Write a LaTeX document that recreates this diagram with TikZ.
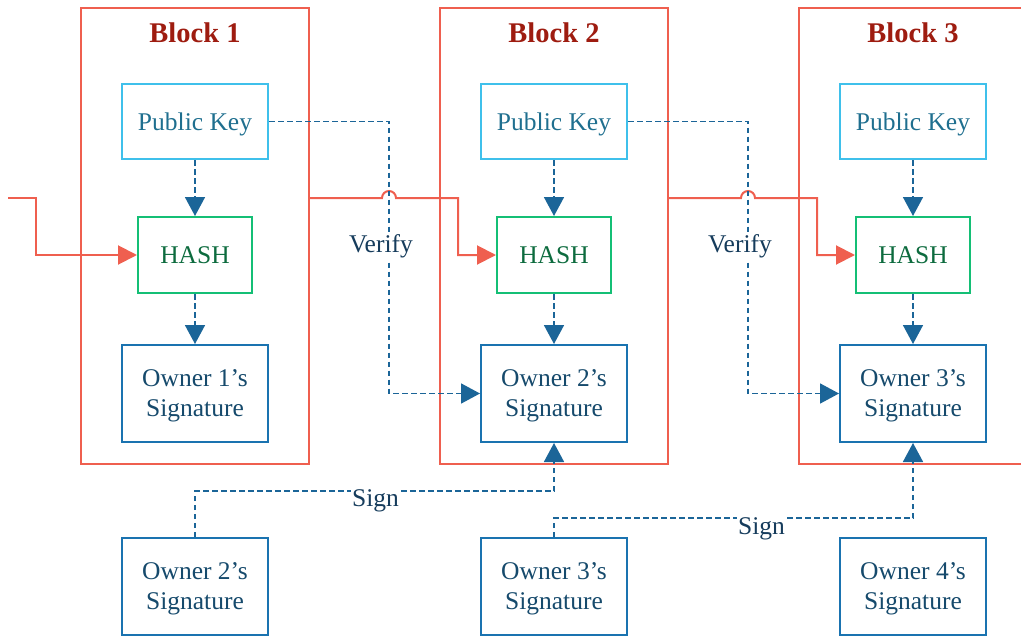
\documentclass[tikz,border=0pt]{standalone}
\usepackage{fontspec}
\setmainfont{Liberation Serif}
\usetikzlibrary{arrows.meta}
\definecolor{blockred}{HTML}{EF5F4F}
\definecolor{titlered}{HTML}{9E1C10}
\definecolor{pkborder}{HTML}{3FC0EB}
\definecolor{pktext}{HTML}{1F6F8F}
\definecolor{hashborder}{HTML}{14BF75}
\definecolor{hashtext}{HTML}{0D6B3E}
\definecolor{sigborder}{HTML}{1A73B0}
\definecolor{sigtext}{HTML}{164A6C}
\definecolor{dashcol}{HTML}{1B6598}
\definecolor{labeltext}{HTML}{163C5C}
\begin{document}
\begin{tikzpicture}[x=1pt,y=-1pt,
  blockbox/.style={draw=blockred, line width=2pt, minimum width=228pt, minimum height=456pt, inner sep=0pt},
  titletext/.style={text=titlered, font=\fontsize{28.5}{34}\selectfont\bfseries},
  basefont/.style={font=\fontsize{25.5}{30}\selectfont},
  boxtext/.style={basefont, text depth=0pt},
  pkbox/.style={boxtext, draw=pkborder, line width=2pt, text=pktext, minimum width=146pt, minimum height=75pt},
  hashbox/.style={boxtext, draw=hashborder, line width=2pt, text=hashtext, minimum width=114pt, minimum height=76pt},
  sigbox/.style={boxtext, draw=sigborder, line width=2pt, text=sigtext, minimum width=146pt, minimum height=97pt, align=center},
  dashline/.style={draw=dashcol, line width=1.7pt, dash pattern=on 5.5pt off 3.5pt, -{Triangle[length=19pt,width=20pt,fill=dashcol]}},
  redline/.style={draw=blockred, line width=2pt, -{Triangle[length=19pt,width=19pt,fill=blockred]}},
  lbl/.style={basefont, fill=white, text=labeltext, inner sep=1pt}
]
\useasboundingbox (0,0) rectangle (1021,637);
\clip (0,0) rectangle (1021,637);

% blocks
\node[blockbox] (b1) at (195,236) {};
\node[blockbox] (b2) at (554,236) {};
\node[blockbox] (b3) at (913,236) {};
\node[titletext] (t1) at (195,33) {Block 1};
\node[titletext] (t2) at (554,33) {Block 2};
\node[titletext] (t3) at (913,33) {Block 3};

% inner nodes
\node[pkbox] (pk1) at (195,121.5) {Public Key};
\node[pkbox] (pk2) at (554,121.5) {Public Key};
\node[pkbox] (pk3) at (913,121.5) {Public Key};
\node[hashbox] (h1) at (195,255) {HASH};
\node[hashbox] (h2) at (554,255) {HASH};
\node[hashbox] (h3) at (913,255) {HASH};
\node[sigbox] (s1) at (195,393.5) {Owner 1’s\\Signature};
\node[sigbox] (s2) at (554,393.5) {Owner 2’s\\Signature};
\node[sigbox] (s3) at (913,393.5) {Owner 3’s\\Signature};
\node[sigbox] (o2) at (195,586.5) {Owner 2’s\\Signature};
\node[sigbox] (o3) at (554,586.5) {Owner 3’s\\Signature};
\node[sigbox] (o4) at (913,586.5) {Owner 4’s\\Signature};

\coordinate (start) at (8,198);
\coordinate (v1) at (389,0);
\coordinate (v2) at (748,0);
\coordinate (sg1) at (0,491);
\coordinate (sg2) at (0,518);

% red chain
\draw[redline] (start) -- (36,198) |- (h1.west);
\draw[redline] (b1.east |- start) -- (382,198) arc[start angle=180,end angle=360,radius=7] -- (458,198) |- (h2.west);
\draw[redline] (b2.east |- start) -- (741,198) arc[start angle=180,end angle=360,radius=7] -- (817,198) |- (h3.west);

% inner dashed arrows
\draw[dashline] (pk1) -- (h1);
\draw[dashline] (h1) -- (s1);
\draw[dashline] (pk2) -- (h2);
\draw[dashline] (h2) -- (s2);
\draw[dashline] (pk3) -- (h3);
\draw[dashline] (h3) -- (s3);

% verify
\draw[dashline] (pk1.east) -| (v1 |- s2.west) -- (s2.west);
\draw[dashline] (pk2.east) -| (v2 |- s3.west) -- (s3.west);

% sign
\draw[dashline] (o2.north) |- (s2.south |- sg1) -- (s2.south);
\draw[dashline] (o3.north) |- (s3.south |- sg2) -- (s3.south);

% labels
\node[lbl] (verify1) at (381,246.5) {Verify};
\node[lbl] (verify2) at (740,246.5) {Verify};
\node[lbl] (sign1) at (375.5,500.5) {Sign};
\node[lbl] (sign2) at (761.5,528.5) {Sign};
\end{tikzpicture}
\end{document}
